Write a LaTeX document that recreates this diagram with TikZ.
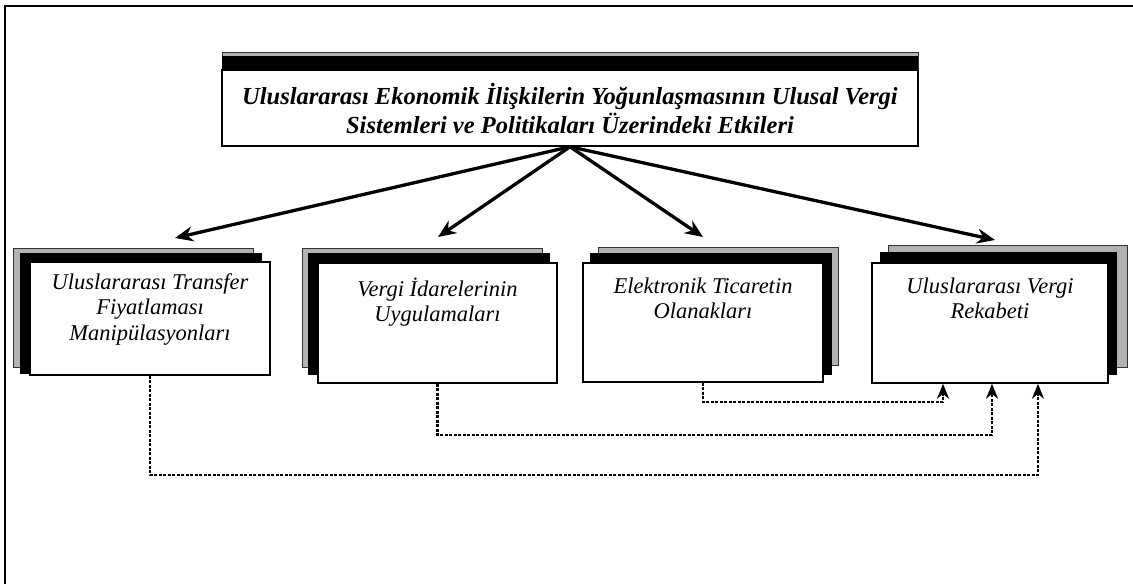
\documentclass[tikz,border=0pt]{standalone}
\usepackage{fontspec}
\setmainfont{Liberation Serif}
\usetikzlibrary{arrows.meta,calc}
\begin{document}
\begin{tikzpicture}[x=1pt,y=-1pt,
  back/.style={fill=gray!60,draw=black!80,line width=0.6pt},
  mid/.style={fill=black},
  front/.style={draw=black,line width=1.5pt,fill=white,rectangle,inner sep=0pt},
  boxtext/.style={font=\fontsize{22.5}{25.5}\selectfont\itshape,align=center,anchor=north},
  mainarrow/.style={line width=3.3pt,-{Stealth[length=18pt,width=15pt]}},
  dotconn/.style={line width=2.8pt,dash pattern=on 3pt off 1.5pt,-{Stealth[length=15pt,width=12pt]}}]
\useasboundingbox (0,0) rectangle (1133,584);
\draw[line width=2.5pt] (1133,6) -- (5,6) -- (5,584);
% top box
\filldraw[back] (222,52) rectangle (918,130);
\fill[mid] (222,56) rectangle (918,135);
\node[front,minimum width=696pt,minimum height=76pt,
  font=\fontsize{24.5}{29}\selectfont\bfseries\itshape,align=center] (top) at (570,108)
  {Uluslararası Ekonomik İlişkilerin Yoğunlaşmasının Ulusal Vergi\\Sistemleri ve Politikaları Üzerindeki Etkileri};
% box 1
\filldraw[back] (13,248) rectangle (253,367);
\fill[mid] (20,253) rectangle (262,374);
\node[front,minimum width=240pt,minimum height=113pt] (b1) at (150,318.5) {};
\node[boxtext] (t1) at (150,270) {Uluslararası Transfer\\Fiyatlaması\\Manipülasyonları};
% box 2
\filldraw[back] (302,248) rectangle (542,367);
\fill[mid] (308,253) rectangle (550,375);
\node[front,minimum width=239pt,minimum height=120pt] (b2) at (437.5,323) {};
\node[boxtext] (t2) at (437.5,274) {Vergi İdarelerinin\\Uygulamaları};
% box 3
\filldraw[back] (598,247) rectangle (838,365);
\fill[mid] (590,253) rectangle (832,375);
\node[front,minimum width=240pt,minimum height=119pt] (b3) at (703,322.5) {};
\node[boxtext] (t3) at (703,274) {Elektronik Ticaretin\\Olanakları};
% box 4
\filldraw[back] (888,245) rectangle (1127,367);
\fill[mid] (880,252) rectangle (1117,375);
\node[front,minimum width=236pt,minimum height=120pt] (b4) at (990,323) {};
\node[boxtext] (t4) at (990,274) {Uluslararası Vergi\\Rekabeti};
% main arrows
\coordinate (a1) at (175,238);
\coordinate (a2) at (438,237);
\coordinate (a3) at (703,237);
\coordinate (a4) at (995,240);
\foreach \t in {a1,a2,a3,a4} \draw[mainarrow] (top.south) -- (\t);
% dotted connectors
\coordinate (h3) at (943,402);
\coordinate (h2) at (992,435);
\coordinate (h1) at (1038,475);
\draw[dotconn] (b3.south) |- (h3) -- (h3 |- b4.south);
\draw[dotconn] (b2.south) |- (h2) -- (h2 |- b4.south);
\draw[dotconn] (b1.south) |- (h1) -- (h1 |- b4.south);
\end{tikzpicture}
\end{document}
